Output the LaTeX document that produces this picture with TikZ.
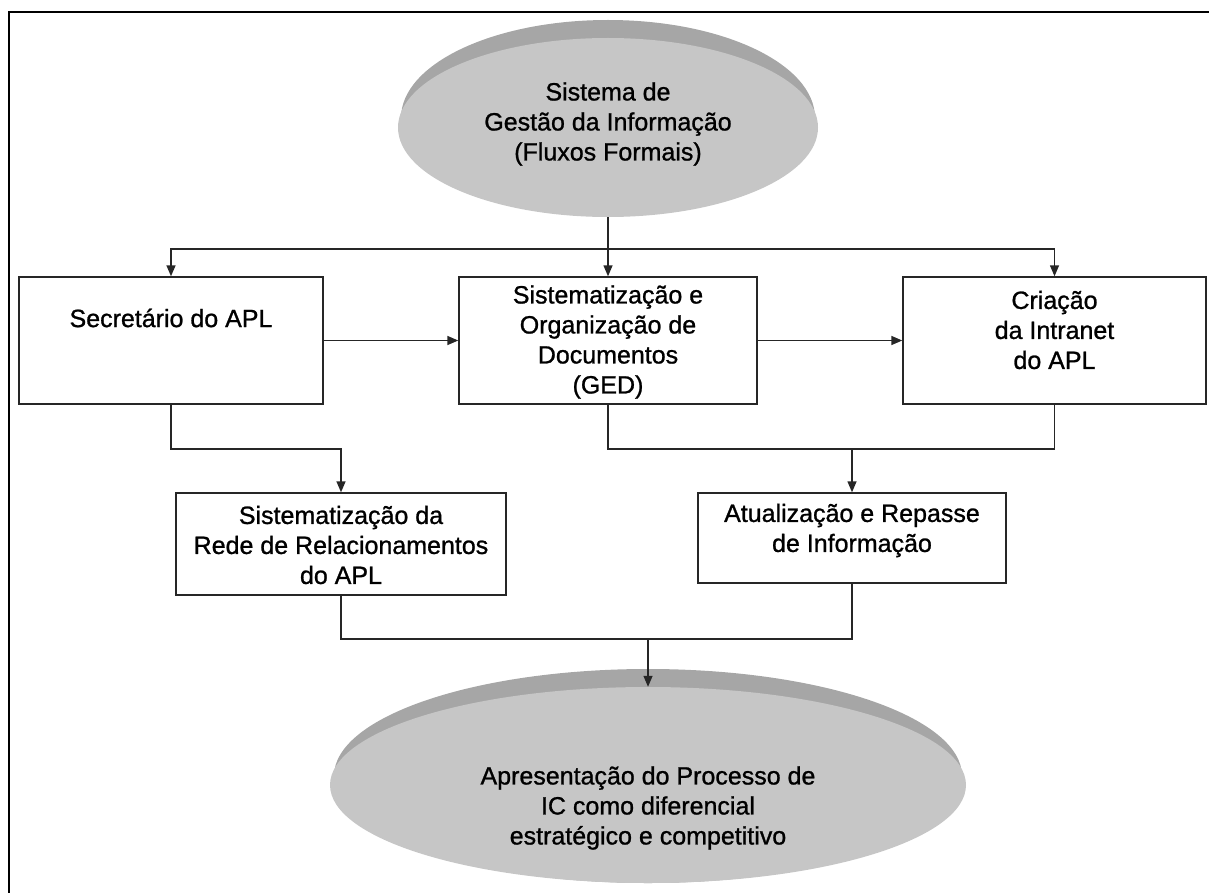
\documentclass[tikz,border=0pt]{standalone}
\usepackage{fontspec}
\setmainfont{Liberation Sans}
\newfontfamily\heavysans[UprightFeatures={FakeBold=1}]{Liberation Sans}
\usetikzlibrary{arrows.meta,shapes.geometric}
\definecolor{facegray}{HTML}{C6C6C6}
\definecolor{rimgray}{HTML}{A6A6A6}
\definecolor{linegray}{HTML}{262626}
\begin{document}
\begin{tikzpicture}[x=1pt,y=-1pt,
  stepbox/.style={draw=linegray, line width=1.4pt, fill=white, inner sep=0pt},
  conn/.style={draw=linegray, line width=1.4pt},
  arr/.style={conn, -{Triangle[length=11pt,width=9pt]}},
  txt/.style={font=\heavysans\fontsize{25}{30}\selectfont, align=center, inner sep=0pt},
  disc/.style={ellipse, fill=facegray, inner sep=0pt}]
\useasboundingbox (0,0) rectangle (1209,893);
% frame
\draw[line width=2.5pt] (9,893) -- (9,12) -- (1209,12);

% top disc
\fill[rimgray] (608,118) ellipse [x radius=207pt, y radius=98pt];
\node[disc, minimum width=420pt, minimum height=179pt] (E1) at (608,127.5) {};
\node[txt] (tE1) at (608,124) {Sistema de\\Gestão da Informação\\(Fluxos Formais)};

% boxes
\node[stepbox, minimum width=304pt, minimum height=127pt] (b1) at (171,340.5) {};
\node[txt] (t1) at (171,318) {Secretário do APL};
\node[stepbox, minimum width=298pt, minimum height=127pt] (b2) at (608,340.5) {};
\node[txt] (t2) at (608,342) {Sistematização e\\Organização de\\Documentos\\(GED)};
\node[stepbox, minimum width=303pt, minimum height=127pt] (b3) at (1054.5,340.5) {};
\node[txt] (t3) at (1054.5,330) {Criação\\da Intranet\\do APL};
\node[stepbox, minimum width=330pt, minimum height=102pt] (b4) at (341,544) {};
\node[txt] (t4) at (341,545) {Sistematização da\\Rede de Relacionamentos\\do APL};
\node[stepbox, minimum width=308pt, minimum height=90pt] (b5) at (852,538) {};
\node[txt] (t5) at (852,530.5) {Atualização e Repasse\\de Informação};

% bottom disc
\fill[rimgray] (648,776) ellipse [x radius=314pt, y radius=107pt];
\node[disc, minimum width=636pt, minimum height=196pt] (E2) at (648,785) {};
\node[txt] (tE2) at (648,808) {Apresentação do Processo de\\IC como diferencial\\estratégico e competitivo};

% connectors
\coordinate (j1) at (608,249);
\coordinate (j2) at (341,449);
\coordinate (j3) at (852,449);
\coordinate (j4) at (648,639);
\draw[conn] (E1.south) -- (j1);
\draw[arr] (j1) -| (b1);
\draw[arr] (j1) -- (b2);
\draw[arr] (j1) -| (b3);
\draw[arr] (b1) -- (b2);
\draw[arr] (b2) -- (b3);
\draw[arr] (b1.south) |- (j2) -- (b4);
\draw[conn] (b2.south) |- (j3) -| (b3.south);
\draw[arr] (j3) -- (b5);
\draw[conn] (b4.south) |- (j4) -| (b5.south);
\draw[arr] (j4) -- (E2.north);
\end{tikzpicture}
\end{document}
